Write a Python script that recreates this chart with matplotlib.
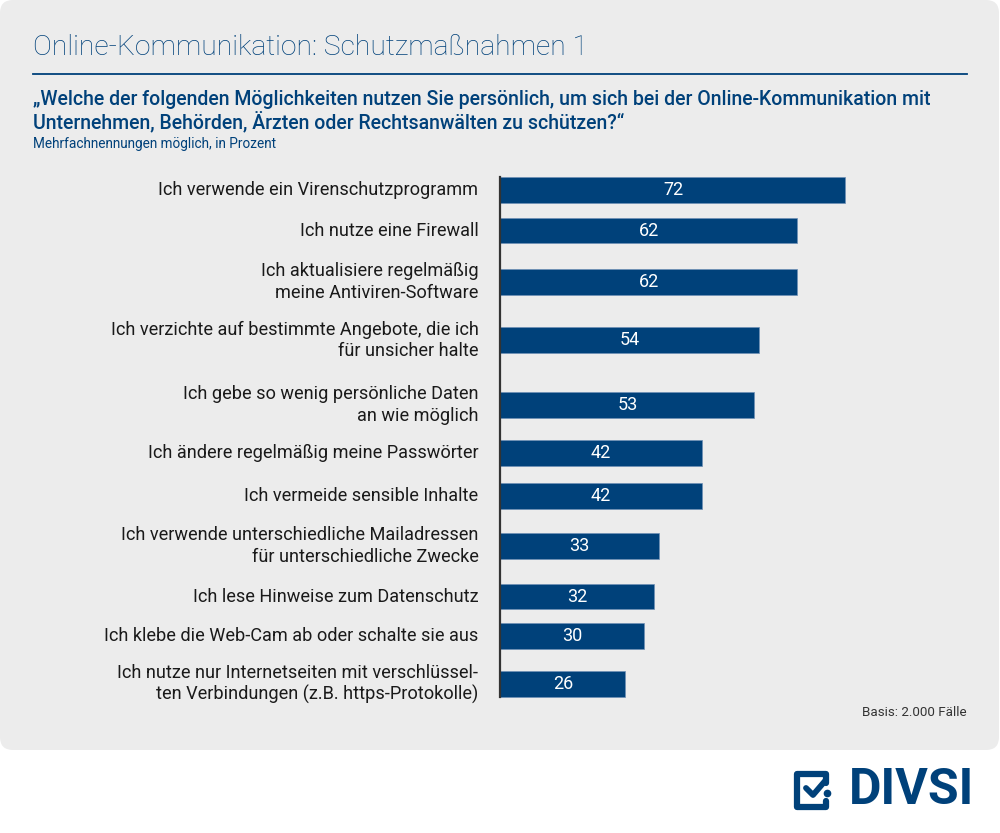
import matplotlib.pyplot as plt
from matplotlib.patches import FancyBboxPatch

plt.rcParams['font.family'] = ['Roboto', 'DejaVu Sans']

labels = [
    'Ich verwende ein Virenschutzprogramm',
    'Ich nutze eine Firewall',
    'Ich aktualisiere regelmäßig\nmeine Antiviren-Software',
    'Ich verzichte auf bestimmte Angebote, die ich\nfür unsicher halte',
    'Ich gebe so wenig persönliche Daten\nan wie möglich',
    'Ich ändere regelmäßig meine Passwörter',
    'Ich vermeide sensible Inhalte',
    'Ich verwende unterschiedliche Mailadressen\nfür unterschiedliche Zwecke',
    'Ich lese Hinweise zum Datenschutz',
    'Ich klebe die Web-Cam ab oder schalte sie aus',
    'Ich nutze nur Internetseiten mit verschlüssel-\nten Verbindungen (z.B. https-Protokolle)',
]
values = [72, 62, 62, 54, 53, 42, 42, 33, 32, 30, 26]

# vertical layout of the rows (pixel rows of the original)
rows = [190, 230.5, 282, 340, 405, 453, 496, 546, 596.5, 636, 684]

blue = '#00417a'
W, H = 1000, 833

fig = plt.figure(figsize=(10, 8.33), dpi=100)
bg = fig.add_axes([0, 0, 1, 1])
bg.set_xlim(0, W)
bg.set_ylim(H, 0)
bg.axis('off')

bg.add_patch(FancyBboxPatch((0, 0), 999, 750, boxstyle='round,pad=0,rounding_size=13',
                            fc='#ececec', ec='none'))

bg.text(33, 47, 'Online-Kommunikation: Schutzmaßnahmen 1', fontsize=20.3, color=blue,
        fontweight='light', va='center', ha='left')
bg.plot([33, 967], [73.5, 73.5], color=blue, lw=1.3)
bg.text(33, 112, '„Welche der folgenden Möglichkeiten nutzen Sie persönlich, um sich bei der Online-Kommunikation mit\n'
        'Unternehmen, Behörden, Ärzten oder Rechtsanwälten zu schützen?“',
        fontsize=14.05, color=blue, fontweight='medium', va='center', ha='left', linespacing=1.17)
bg.text(33, 144, 'Mehrfachnennungen möglich, in Prozent', fontsize=9.8, color=blue,
        va='center', ha='left')
bg.text(967, 713, 'Basis: 2.000 Fälle', fontsize=9.6, color='#333333', va='center', ha='right')

# logo
bg.text(974, 791, 'DIVSI', fontsize=36, fontweight='bold', color=blue, va='center', ha='right')
bg.plot([826, 826, 797, 797, 826, 826], [783, 774, 774, 807, 807, 801], color=blue, lw=4.5,
        solid_joinstyle='round', solid_capstyle='round')
bg.plot([806, 813, 825], [788, 795, 781], color=blue, lw=4.2, solid_capstyle='round')
bg.plot([827], [793], 'o', color=blue, ms=4.5)

# bars
ax = fig.add_axes([500.5 / W, 1 - 705 / H, 480 / W, 535 / H])
ax.set_xlim(0, 480 / 4.79)
ax.set_ylim(705, 170)
ax.patch.set_alpha(0)
ax.barh(rows, values, height=25.5, color=blue, edgecolor='#6f8fb5', linewidth=0.5)
ax.plot([0, 0], [177, 697], color='#333333', lw=1.6, clip_on=False)
for y, v, lab in zip(rows, values, labels):
    ax.text(v / 2, y, str(v), color='white', fontsize=13, ha='center', va='center')
    ax.text(-4.6, y, lab, color='#1a1a1a', fontsize=13.1, ha='right', va='center', linespacing=1.22)
for s in ax.spines.values():
    s.set_visible(False)
ax.set_xticks([])
ax.set_yticks([])

fig.savefig('out.png', dpi=100, facecolor='white')
